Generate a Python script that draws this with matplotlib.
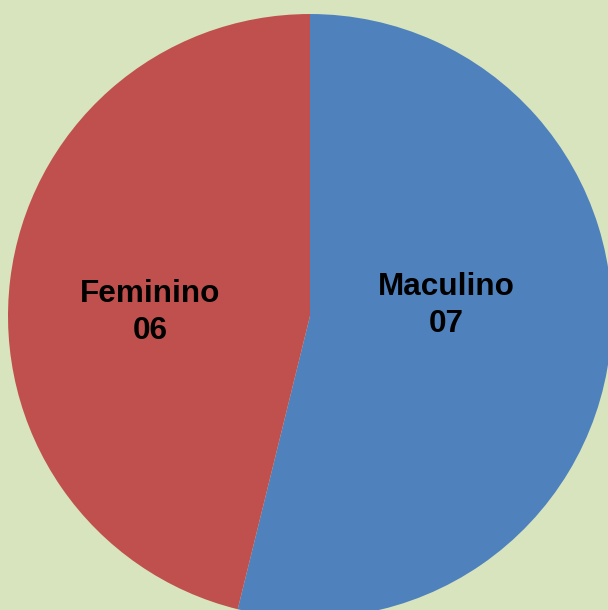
import matplotlib.pyplot as plt

# Data
categories = ['Maculino', 'Feminino']
values = [7, 6]
colors = ['#4F81BD', '#C0504D']
label_pos = [(0.45, 0.035), (-0.53, 0.012)]

fig = plt.figure(figsize=(6.08, 6.10), dpi=100)
fig.patch.set_facecolor('#D7E4BD')
ax = fig.add_axes([0, 0, 1, 1])
ax.set_facecolor('#D7E4BD')

ax.pie(values, colors=colors, startangle=90, counterclock=False, radius=1.0,
       wedgeprops=dict(linewidth=0))

for name, val, (x, y) in zip(categories, values, label_pos):
    ax.text(x, y, f'{name}\n{val:02d}', ha='center', va='center',
            fontsize=22.7, fontweight='bold', family='Liberation Sans',
            linespacing=1.28)

ax.set_xlim(-1.0265, 0.9868)
ax.set_ylim(-0.9735, 1.0464)
ax.set_aspect('equal')
ax.axis('off')

fig.savefig('out.png', dpi=100, facecolor=fig.get_facecolor())
